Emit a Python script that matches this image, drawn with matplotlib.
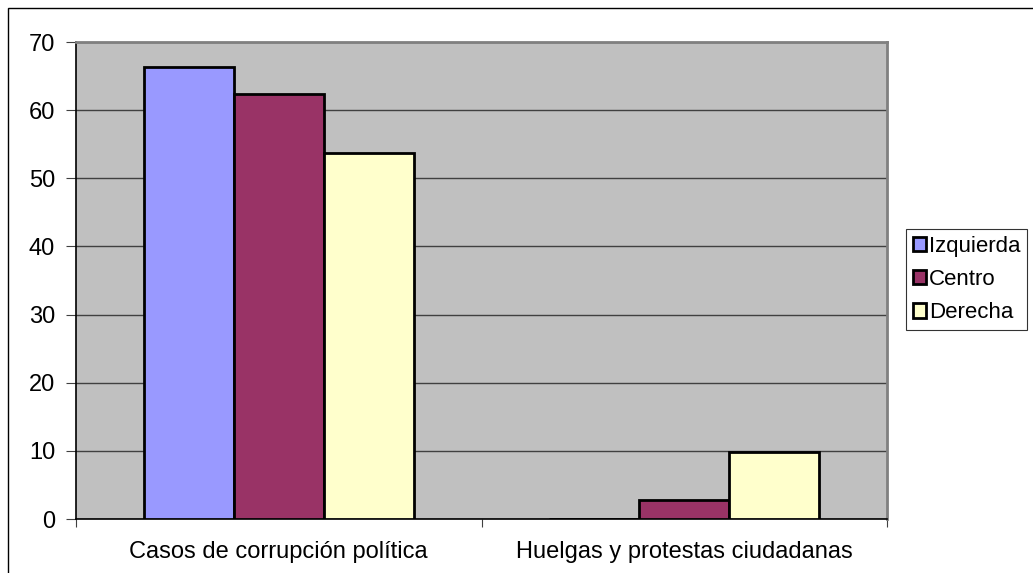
import numpy as np
import matplotlib.pyplot as plt
from matplotlib.patches import Rectangle

plt.rcParams['font.family'] = ['Liberation Sans', 'DejaVu Sans']

categorias = ['Casos de corrupción política', 'Huelgas y protestas ciudadanas']
izquierda = [66.4, 0.0]
centro = [62.3, 2.8]
derecha = [53.7, 9.9]
series = ['Izquierda', 'Centro', 'Derecha']
colores = ['#9999FF', '#993366', '#FFFFCC']

fig = plt.figure(figsize=(10.33, 5.73), dpi=100)
ax = fig.add_axes([0.0736, 0.0942, 0.7851, 0.8325])
ax.set_facecolor('#C0C0C0')

x = np.arange(len(categorias))
w = 0.2222
for i, (vals, nombre, col) in enumerate(zip([izquierda, centro, derecha], series, colores)):
    ax.bar(x + (i - 1) * w, vals, width=w, color=col, edgecolor='black',
           linewidth=2, label=nombre, zorder=3)

ax.set_xlim(-0.5, 1.5)
ax.set_ylim(0, 70)
ax.set_yticks(range(0, 71, 10))
ax.yaxis.grid(True, color='#404040', linewidth=1)
ax.set_axisbelow(True)

# ticks at category boundaries, labels centred under each group
ax.set_xticks([-0.5, 0.5, 1.5])
ax.set_xticklabels([])
ax.set_xticks(x, minor=True)
ax.set_xticklabels(categorias, minor=True, fontsize=17)
ax.tick_params(axis='x', which='minor', length=0, pad=16)
ax.tick_params(axis='x', which='major', length=6, color='#404040')
ax.tick_params(axis='y', length=7, color='#404040', labelsize=17, pad=8)

for s in ['left', 'bottom']:
    ax.spines[s].set_color('black')
    ax.spines[s].set_linewidth(1.2)
for s in ['top', 'right']:
    ax.spines[s].set_color('#808080')
    ax.spines[s].set_linewidth(2)

leg = fig.legend(loc='center left', bbox_to_anchor=(0.877, 0.512), fontsize=16,
                 frameon=True, fancybox=False, edgecolor='black', handlelength=0.6,
                 handleheight=0.6, handletextpad=0.15, borderpad=0.3, labelspacing=0.55,
                 borderaxespad=0)
leg.get_frame().set_linewidth(0.8)

# outer chart border
fig.patches.append(Rectangle((8 / 1033, -0.05), 1.1, 1 - 8 / 573 + 0.05,
                             transform=fig.transFigure, fill=False,
                             edgecolor='black', linewidth=1))

fig.savefig('out.png', dpi=100)
